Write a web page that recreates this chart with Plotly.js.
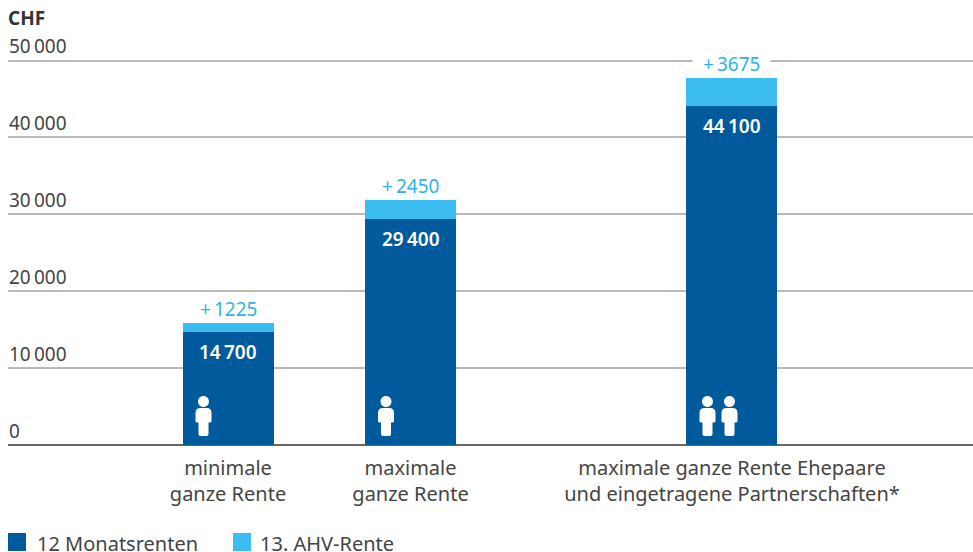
<!DOCTYPE html>
<html><head><meta charset="utf-8">
<script src="https://cdn.plot.ly/plotly-3.0.1.min.js"></script>
<style>html,body{margin:0;padding:0;background:#fff}#c{width:973px;height:552px}</style>
</head><body><div id="c"></div>
<script>
const categories = ['minimale<br>ganze Rente','maximale<br>ganze Rente','maximale ganze Rente Ehepaare<br>und eingetragene Partnerschaften*'];
const slots = [0, 1, 2.7616];
const monthly = [14700, 29400, 44100];
const thirteenth = [1225, 2450, 3675];
const monthlyLabels = ['14\u2009700','29\u2009400','44\u2009100'];
const thirteenthLabels = ['\u00a0\u00a0+\u20091225\u00a0\u00a0','\u00a0\u00a0+\u20092450\u00a0\u00a0','\u00a0\u00a0+\u20093675\u00a0\u00a0'];
const persons = [1, 1, 2];
const seriesNames = ['12 Monatsrenten','13. AHV-Rente'];
const tickVals = [0,10000,20000,30000,40000,50000];
const tickText = ['0','10\u2009000','20\u2009000','30\u2009000','40\u2009000','50\u2009000'];
const DARK='#005a9c', LIGHT='#3cbdf1', CYAN='#2db4e6', TEXT='#444444';
const FONT='"Noto Sans", sans-serif';

const W=973, H=552, L=8, B=107, PH=H-B, SLOT=182.5, C0=228;
const xr=[(L-C0)/SLOT,(W-C0)/SLOT];
const px=p=>(p-L)/(W-L), py=p=>(PH-p)/PH;

const data=[
 {type:'bar',name:seriesNames[0],x:slots,y:monthly,width:0.4986,marker:{color:DARK,line:{width:0}},hoverinfo:'y'},
 {type:'bar',name:seriesNames[1],x:slots,y:thirteenth,width:0.4986,marker:{color:LIGHT,line:{width:0}},hoverinfo:'y'}
];

const annotations=[];
slots.forEach((x,i)=>{
  annotations.push({x,y:monthly[i],yanchor:'top',yshift:-5,text:monthlyLabels[i],showarrow:false,
    font:{family:FONT,size:19,color:'#fff',weight:600}});
  annotations.push({x,y:monthly[i]+thirteenth[i],yanchor:'bottom',yshift:0,text:thirteenthLabels[i],showarrow:false,
    bgcolor:'#fff',borderpad:0,font:{family:FONT,size:19,color:CYAN}});
});
annotations.push({xref:'paper',yref:'paper',x:px(6),y:py(18),xanchor:'left',yanchor:'middle',text:'CHF',showarrow:false,
  font:{family:FONT,size:19,color:'#333',weight:700}});
annotations.push({xref:'paper',yref:'paper',x:px(35),y:py(543),xanchor:'left',yanchor:'middle',text:seriesNames[0],showarrow:false,
  font:{family:FONT,size:20,color:TEXT}});
annotations.push({xref:'paper',yref:'paper',x:px(258),y:py(543),xanchor:'left',yanchor:'middle',text:seriesNames[1],showarrow:false,
  font:{family:FONT,size:20,color:TEXT}});

const K=0.5523*5.5;
const person=dx=>`M${dx-8},${32}Q${dx-8},${37} ${dx-3},${37}H${dx+3}Q${dx+8},${37} ${dx+8},${32}V${24}Q${dx+8},${22.5} ${dx+6},${22.5}H${dx+5}V${11}Q${dx+5},${9} ${dx+3},${9}H${dx-3}Q${dx-5},${9} ${dx-5},${11}V${22.5}H${dx-6}Q${dx-8},${22.5} ${dx-8},${24}Z`
 +`M${dx-5.5},${43.5}C${dx-5.5},${43.5+K} ${dx-K},${49} ${dx},${49}C${dx+K},${49} ${dx+5.5},${43.5+K} ${dx+5.5},${43.5}C${dx+5.5},${43.5-K} ${dx+K},${38} ${dx},${38}C${dx-K},${38} ${dx-5.5},${43.5-K} ${dx-5.5},${43.5}Z`;
const shapes=[];
slots.forEach((x,i)=>{
  for(let k=0;k<persons[i];k++){
    shapes.push({type:'path',xref:'x',yref:'y',xsizemode:'pixel',ysizemode:'pixel',xanchor:x,yanchor:0,
      path:person(-24.5+k*22),fillcolor:'#fff',line:{width:0},layer:'above'});
  }
});
[[8,DARK],[233,LIGHT]].forEach(([p,c])=>{
  shapes.push({type:'rect',xref:'paper',yref:'paper',x0:px(p),x1:px(p+18),y0:py(551),y1:py(533),fillcolor:c,line:{width:0}});
});

const layout={
  width:W,height:H,margin:{l:L,r:0,t:0,b:B,pad:0},paper_bgcolor:'#fff',plot_bgcolor:'#fff',showlegend:false,
  barmode:'stack',annotations,shapes,
  font:{family:FONT,size:18,color:TEXT},
  xaxis:{range:xr,tickmode:'array',tickvals:slots,ticktext:categories,ticks:'',showgrid:false,zeroline:false,
    showline:false,ticklabelstandoff:9,tickfont:{family:FONT,size:20,color:TEXT},fixedrange:true},
  yaxis:{range:[0,50000*PH/384.5],tickmode:'array',tickvals:tickVals,ticktext:tickText,ticks:'',
    ticklabelposition:'inside',ticklabelshift:-14,ticklabelstandoff:-2,
    showgrid:true,gridcolor:'#b9b9b9',gridwidth:2,zeroline:true,zerolinecolor:'#666666',zerolinewidth:2,
    tickfont:{family:FONT,size:19,color:TEXT},fixedrange:true}
};
Plotly.newPlot('c',data,layout,{displayModeBar:false,staticPlot:true});
</script></body></html>
